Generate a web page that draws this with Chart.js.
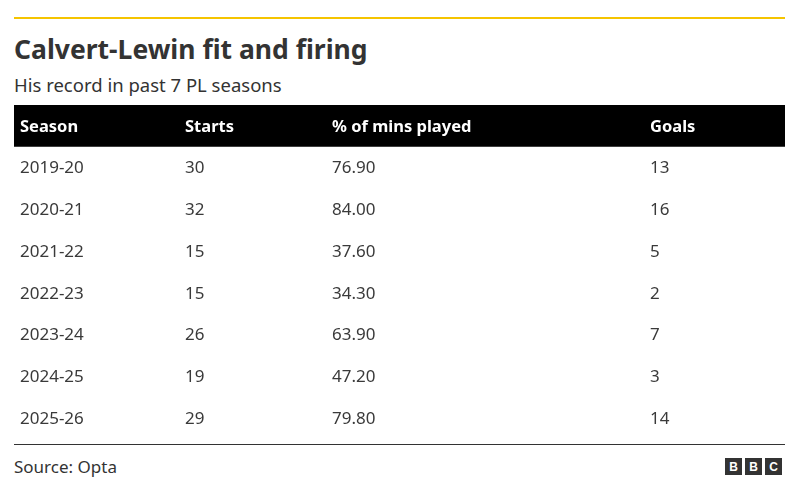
<!DOCTYPE html>
<html><head><meta charset="utf-8">
<script src="https://cdn.jsdelivr.net/npm/chart.js@4"></script>
<style>
body{margin:0;width:795px;height:500px;background:#fff;font-family:"Noto Sans",sans-serif;color:#141414;position:relative;overflow:hidden}
#topline{position:absolute;left:14px;top:17px;width:771px;height:2px;background:#f5c400}
#title{position:absolute;left:14px;top:31px;font-size:26.5px;font-weight:700;color:#333}
#sub{position:absolute;left:14px;top:72px;font-size:18.5px;color:#333}
#wrap{position:absolute;left:14px;top:105px;width:771px;height:334px}
#botline{position:absolute;left:14px;top:444px;width:771px;height:1px;background:#333}
#src{position:absolute;left:14px;top:455px;font-size:17px;color:#333}
#bbc{position:absolute;left:725px;top:458px;display:flex;gap:3px}
#bbc span{width:17px;height:17px;background:#333;color:#fff;font-weight:700;font-size:12px;display:flex;align-items:center;justify-content:center;font-family:"Liberation Sans",sans-serif}
</style></head><body>
<div id="topline"></div>
<div id="title">Calvert-Lewin fit and firing</div>
<div id="sub">His record in past 7 PL seasons</div>
<div id="wrap"><canvas id="c" width="771" height="334"></canvas></div>
<div id="botline"></div>
<div id="src">Source: Opta</div>
<div id="bbc"><span>B</span><span>B</span><span>C</span></div>
<script>
const headers = ["Season", "Starts", "% of mins played", "Goals"];
const seasons = ["2019-20","2020-21","2021-22","2022-23","2023-24","2024-25","2025-26"];
const starts = [30, 32, 15, 15, 26, 19, 29];
const minsPct = ["76.90","84.00","37.60","34.30","63.90","47.20","79.80"];
const goals = [13, 16, 5, 2, 7, 3, 14];

const rowLabels = ["header"].concat(seasons);
const colX = [6, 171, 318, 636];

const tablePlugin = {
  id: 'table',
  afterDraw(chart) {
    const ctx = chart.ctx, y = chart.scales.y, area = chart.chartArea;
    const band = (area.bottom - area.top) / rowLabels.length;
    ctx.save();
    const hy = y.getPixelForValue(0);
    ctx.fillStyle = '#000';
    ctx.fillRect(area.left, hy - band/2, area.right - area.left, band);
    ctx.textBaseline = 'middle';
    ctx.font = '700 16.5px "Noto Sans"';
    ctx.fillStyle = '#fff';
    headers.forEach((h, i) => ctx.fillText(h, area.left + colX[i], hy + 1));
    ctx.font = '17px "Noto Sans"';
    ctx.fillStyle = '#3a3a3a';
    seasons.forEach((s, r) => {
      const py = y.getPixelForValue(r + 1) + 1;
      const vals = [s, String(starts[r]), minsPct[r], String(goals[r])];
      vals.forEach((v, i) => ctx.fillText(v, area.left + colX[i], py));
    });
    ctx.restore();
  }
};

new Chart(document.getElementById('c'), {
  type: 'bar',
  data: { labels: rowLabels, datasets: [{ data: [] }] },
  options: {
    indexAxis: 'y',
    responsive: false, animation: false,
    layout: { padding: 0 },
    plugins: { legend: { display: false }, tooltip: { enabled: false } },
    scales: {
      y: { type: 'category', display: false, offset: true },
      x: { display: false, min: 0, max: 1 }
    }
  },
  plugins: [tablePlugin]
});
</script>
</body></html>
